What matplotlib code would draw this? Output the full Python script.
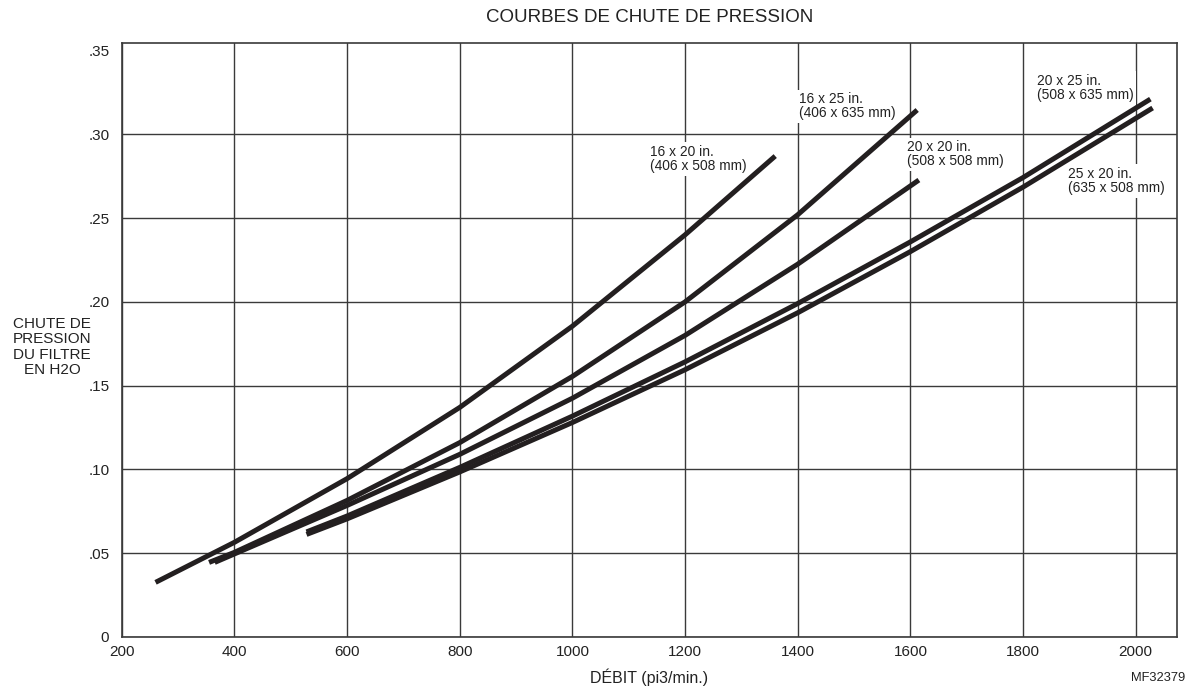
import matplotlib.pyplot as plt

plt.rcParams['font.family'] = ['Liberation Sans', 'DejaVu Sans']

# airflow (pi3/min.) and filter pressure drop (in H2O) along each curve
flow_16x20 = [260, 400, 600, 800, 1000, 1200, 1360]
drop_16x20 = [0.0326, 0.0565, 0.0945, 0.1370, 0.1855, 0.2400, 0.287]

flow_16x25 = [355, 400, 600, 800, 1000, 1200, 1400, 1612]
drop_16x25 = [0.0445, 0.0505, 0.0815, 0.1160, 0.1555, 0.2000, 0.2520, 0.3145]

flow_20x20 = [365, 600, 800, 1000, 1200, 1400, 1615]
drop_20x20 = [0.0445, 0.0785, 0.1090, 0.1425, 0.1800, 0.2225, 0.2727]

flow_20x25 = [528, 600, 800, 1000, 1200, 1400, 1600, 1800, 2026]
drop_20x25 = [0.0627, 0.0722, 0.1012, 0.1318, 0.1642, 0.1990, 0.2358, 0.2742, 0.321]

flow_25x20 = [528, 600, 800, 1000, 1200, 1400, 1600, 1800, 2030]
drop_25x20 = [0.0612, 0.0705, 0.0985, 0.1280, 0.1595, 0.1935, 0.2300, 0.2685, 0.3157]

x_ticks = [200, 400, 600, 800, 1000, 1200, 1400, 1600, 1800, 2000]
y_ticks = [0, 0.05, 0.10, 0.15, 0.20, 0.25, 0.30, 0.35]
y_tick_labels = ['0', '.05', '.10', '.15', '.20', '.25', '.30', '.35']

curves = [
    (flow_16x20, drop_16x20, '16 x 20 in.\n(406 x 508 mm)', (0.501, 0.828)),
    (flow_16x25, drop_16x25, '16 x 25 in.\n(406 x 635 mm)', (0.642, 0.917)),
    (flow_20x20, drop_20x20, '20 x 20 in.\n(508 x 508 mm)', (0.744, 0.836)),
    (flow_20x25, drop_20x25, '20 x 25 in.\n(508 x 635 mm)', (0.867, 0.948)),
    (flow_25x20, drop_25x20, '25 x 20 in.\n(635 x 508 mm)', (0.897, 0.791)),
]

ink = '#231f20'
grid_col = '#3a3a3a'
text_col = '#222222'

fig = plt.figure(figsize=(11.96, 6.92), dpi=100)
ax = fig.add_axes([0.1018, 0.0795, 0.8822, 0.8584])

for flow, drop, label, (tx, ty) in curves:
    ax.plot(flow, drop, color=ink, lw=3.6, solid_capstyle='butt',
            solid_joinstyle='round', zorder=4)
    ax.text(tx, ty, label, transform=ax.transAxes, ha='left', va='top',
            fontsize=9.9, linespacing=1.0, color=text_col, zorder=3,
            bbox=dict(facecolor='white', edgecolor='none', pad=2))

ax.set_xlim(200, 2073)
ax.set_ylim(0, 0.3545)
ax.set_xticks(x_ticks)
ax.set_yticks(y_ticks)
ax.set_yticklabels(y_tick_labels)
ax.tick_params(length=0, labelsize=11, colors=text_col)
ax.tick_params(axis='y', pad=9)
ax.tick_params(axis='x', pad=6)
ax.grid(True, color=grid_col, lw=1.0)
ax.set_axisbelow(True)
# the .35 line sits on the frame, so keep only the spine there
ax.yaxis.get_gridlines()[-1].set_visible(False)
for sp in ax.spines.values():
    sp.set_color(grid_col)
    sp.set_linewidth(1.2)

fig.text(0.543, 0.974, 'COURBES DE CHUTE DE PRESSION', ha='center', va='center',
         fontsize=13.5, color=text_col)
fig.text(0.543, 0.022, 'DÉBIT (pi3/min.)', ha='center', va='center',
         fontsize=11.5, color=text_col)
fig.text(0.9908, 0.020, 'MF32379', ha='right', va='center',
         fontsize=9.3, color=text_col)
fig.text(0.0435, 0.4986, 'CHUTE DE\nPRESSION\nDU FILTRE\nEN H2O', ha='center',
         va='center', multialignment='center', fontsize=11, linespacing=1.1,
         color=text_col)

fig.savefig('out.png', dpi=100)
